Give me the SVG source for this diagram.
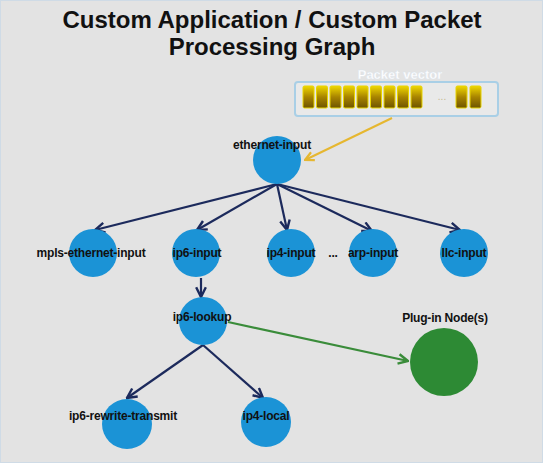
<svg xmlns="http://www.w3.org/2000/svg" width="543" height="463" viewBox="0 0 543 463">
<defs>
<style>
.t{font-family:"Liberation Sans",Arial,sans-serif;font-weight:bold;fill:#111;text-anchor:middle}
.lbl{font-size:12px;letter-spacing:-0.2px}
.node{fill:#1b93d6}
.e{stroke:#1c2a5c;stroke-width:2.2;fill:none;marker-end:url(#ah)}
.cell{fill:url(#gold);stroke:#e8d400;stroke-width:1}
</style>
<linearGradient id="gold" x1="0" y1="0" x2="0" y2="1">
<stop offset="0" stop-color="#f0d800"/>
<stop offset="0.5" stop-color="#a88400"/>
<stop offset="1" stop-color="#6e5400"/>
</linearGradient>
<marker id="ah" viewBox="0 0 10 10" refX="9" refY="5" markerWidth="5.5" markerHeight="5.5" orient="auto" markerUnits="strokeWidth">
<path d="M1,1 L9,5 L1,9" fill="none" stroke="#1c2a5c" stroke-width="2"/>
</marker>
<marker id="ahg" viewBox="0 0 10 10" refX="9" refY="5" markerWidth="5.5" markerHeight="5.5" orient="auto" markerUnits="strokeWidth">
<path d="M1,1 L9,5 L1,9" fill="none" stroke="#3a8c3a" stroke-width="2"/>
</marker>
<marker id="ahy" viewBox="0 0 10 10" refX="9" refY="5" markerWidth="5.5" markerHeight="5.5" orient="auto" markerUnits="strokeWidth">
<path d="M1,1 L9,5 L1,9" fill="none" stroke="#e6b730" stroke-width="2"/>
</marker>
</defs>
<rect x="0.5" y="0.5" width="542" height="462" fill="#e3e3e3" stroke="#cfdbe6"/>
<g id="title">
<text class="t" x="272" y="28" font-size="24">Custom Application / Custom Packet</text>
<text class="t" x="272" y="55" font-size="24">Processing Graph</text>
</g>
<g id="packet-vector">
<rect x="295" y="82" width="203" height="34" rx="3" fill="#e9e9e9" stroke="#a9cfe6" stroke-width="2"/>
<text x="400" y="79" font-family="Liberation Sans,Arial,sans-serif" font-weight="bold" font-size="13" fill="#fff" text-anchor="middle" stroke="#d8e4ee" stroke-width="0.3">Packet vector</text>
<rect class="cell" x="303" y="86" width="11" height="22" rx="1.5"/>
<rect class="cell" x="316.5" y="86" width="11" height="22" rx="1.5"/>
<rect class="cell" x="330" y="86" width="11" height="22" rx="1.5"/>
<rect class="cell" x="343.5" y="86" width="11" height="22" rx="1.5"/>
<rect class="cell" x="357" y="86" width="11" height="22" rx="1.5"/>
<rect class="cell" x="370.5" y="86" width="11" height="22" rx="1.5"/>
<rect class="cell" x="384" y="86" width="11" height="22" rx="1.5"/>
<rect class="cell" x="397.5" y="86" width="11" height="22" rx="1.5"/>
<rect class="cell" x="411" y="86" width="11" height="22" rx="1.5"/>
<text x="442" y="100" font-family="Liberation Sans,Arial,sans-serif" font-size="10" fill="#c8b890" text-anchor="middle">...</text>
<rect class="cell" x="456" y="86" width="11" height="22" rx="1.5"/>
<rect class="cell" x="470" y="86" width="11" height="22" rx="1.5"/>
</g>
<g id="connectors">
<line x1="392" y1="118" x2="305" y2="160" stroke="#e6b730" stroke-width="2" marker-end="url(#ahy)"/>
<line class="e" x1="277" y1="184" x2="95" y2="230"/>
<line class="e" x1="277" y1="184" x2="197" y2="230"/>
<line class="e" x1="277" y1="184" x2="287" y2="230"/>
<line class="e" x1="277" y1="184" x2="372" y2="231"/>
<line class="e" x1="277" y1="184" x2="460" y2="230"/>
<line class="e" x1="201" y1="278" x2="201" y2="297"/>
<line class="e" x1="203" y1="345" x2="127" y2="398"/>
<line class="e" x1="203" y1="345" x2="263" y2="398"/>
<line x1="228" y1="322" x2="408" y2="361" stroke="#3a8c3a" stroke-width="2.2" marker-end="url(#ahg)"/>
</g>
<g id="ethernet-input">
<circle class="node" cx="277" cy="160" r="24"/>
<text class="t lbl" x="272" y="149">ethernet-input</text>
</g>
<g id="mpls-ethernet-input">
<circle class="node" cx="93" cy="253" r="24"/>
<text class="t lbl" x="91" y="257">mpls-ethernet-input</text>
</g>
<g id="ip6-input">
<circle class="node" cx="196" cy="253" r="24"/>
<text class="t lbl" x="197" y="257">ip6-input</text>
</g>
<g id="ip4-input">
<circle class="node" cx="291" cy="253" r="24"/>
<text class="t lbl" x="291" y="257">ip4-input</text>
</g>
<text class="t lbl" x="333" y="257">...</text>
<g id="arp-input">
<circle class="node" cx="373" cy="253" r="24"/>
<text class="t lbl" x="373" y="257">arp-input</text>
</g>
<g id="llc-input">
<circle class="node" cx="464" cy="253" r="24"/>
<text class="t lbl" x="464" y="257">llc-input</text>
</g>
<g id="ip6-lookup">
<circle class="node" cx="203" cy="321" r="24"/>
<text class="t lbl" x="202" y="321">ip6-lookup</text>
</g>
<g id="plug-in-nodes">
<circle cx="444" cy="362" r="34" fill="#2d8a34"/>
<text class="t lbl" x="445" y="322">Plug-in Node(s)</text>
</g>
<g id="ip6-rewrite-transmit">
<circle class="node" cx="127" cy="424" r="25"/>
<text class="t lbl" x="123" y="420">ip6-rewrite-transmit</text>
</g>
<g id="ip4-local">
<circle class="node" cx="266" cy="422" r="25"/>
<text class="t lbl" x="266" y="420">ip4-local</text>
</g>
</svg>
